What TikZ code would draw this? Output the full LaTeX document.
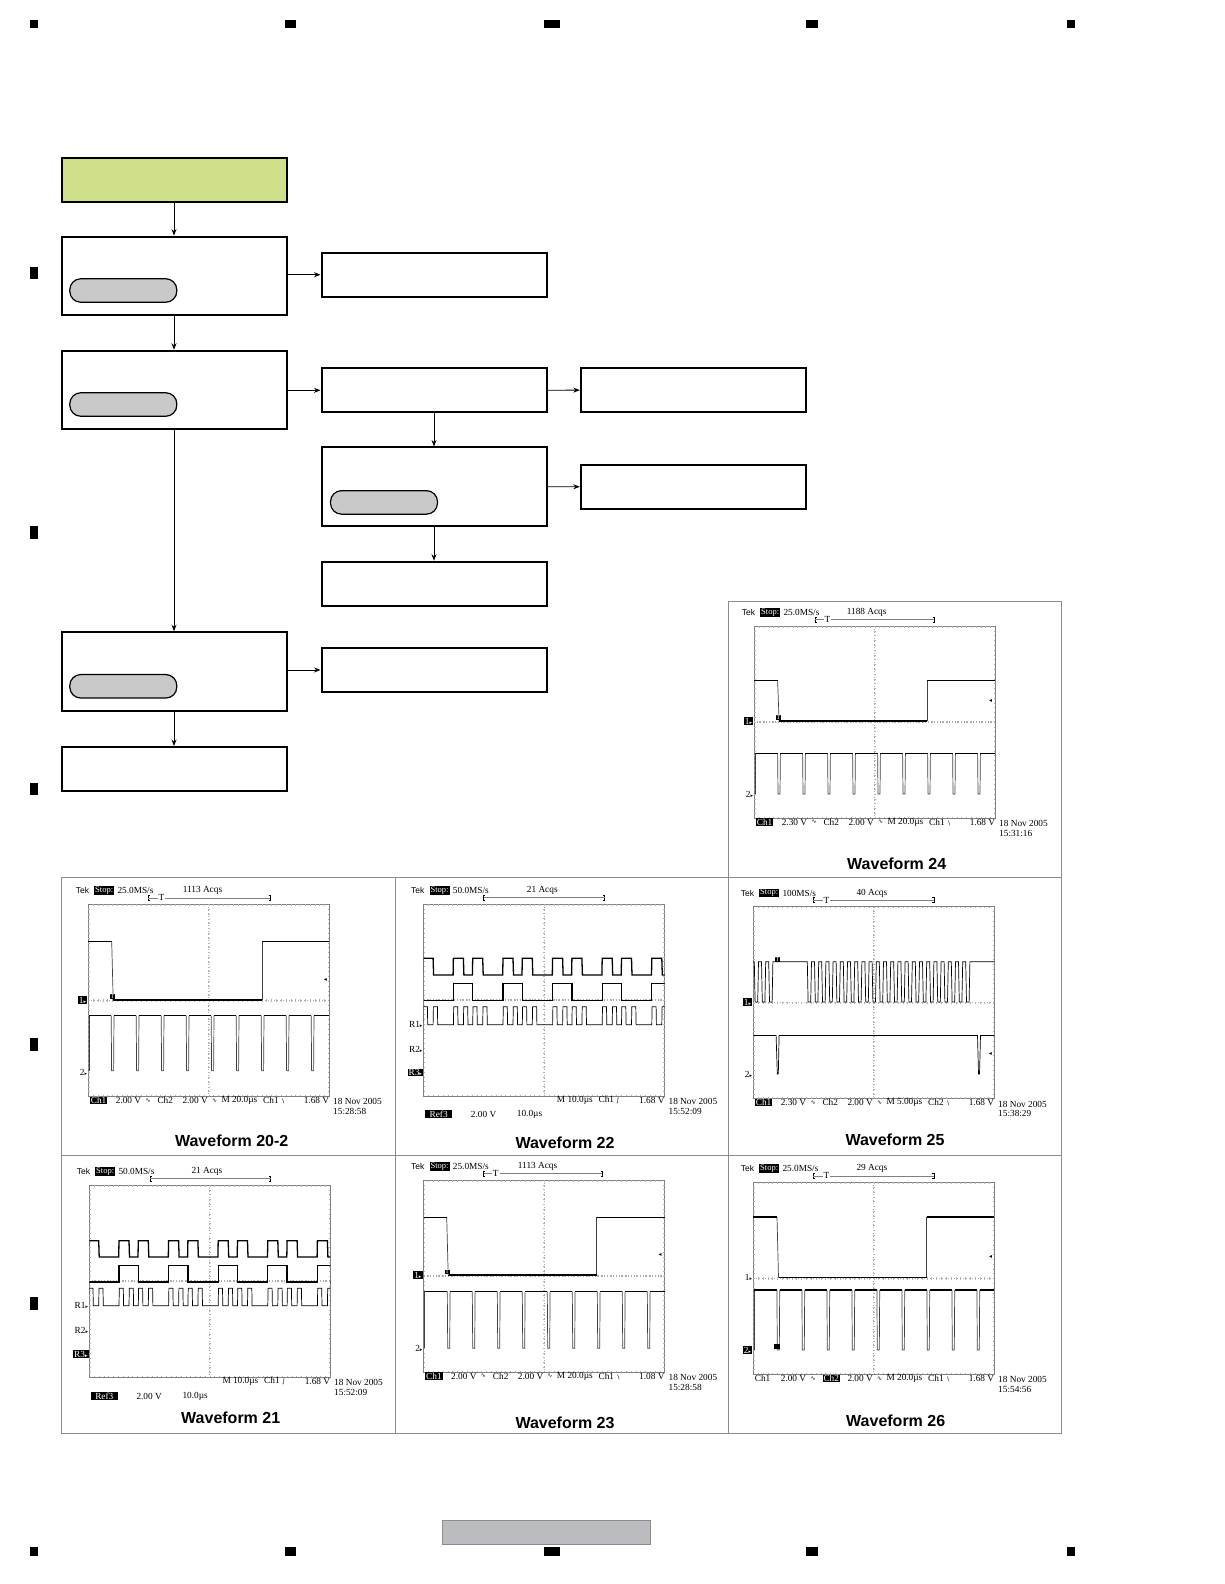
\documentclass[tikz,border=0pt]{standalone}
\usepackage{fontspec}
\setmainfont{Liberation Serif}
\newfontfamily\titlefont{Liberation Sans}
\newfontfamily\scopesym{DejaVu Sans}
\usetikzlibrary{arrows.meta}

\newcommand{\scopefont}{\fontsize{9.3}{10}\selectfont}

\definecolor{flowgreen}{HTML}{CFE08A}
\definecolor{pillgray}{HTML}{C9C9C9}
\definecolor{tabgray}{HTML}{BBBCC0}
\definecolor{panelgray}{HTML}{8C8C8C}

\tikzset{
    flowbox/.style={draw, line width=2pt, inner sep=0, minimum width=225pt, minimum height=44pt},
    tallbox/.style={flowbox, minimum height=78.5pt},
    pill/.style={draw, line width=1.2pt, fill=pillgray, rounded corners=11pt, inner sep=0, minimum width=107pt, minimum height=23.5pt},
    link/.style={line width=0.8pt, -{Stealth[length=6.5pt,width=5pt]}},
    panelline/.style={panelgray, line width=0.8pt},
    gridline/.style={gray, line width=0.7pt},
    griddot/.style={gray!70, line width=1.1pt, dash pattern=on 1pt off 2pt},
    gridtick/.style={gray!60, line width=0.4pt},
    tracethick/.style={line width=1.3pt},
    tracethin/.style={line width=0.7pt},
    traceedge/.style={black!75, line width=0.7pt},
    scopelabel/.style={anchor=west, inner sep=0, font=\scopefont},
    scopeinv/.style={scopelabel, fill=black, text=white, inner xsep=1pt, inner ysep=0.5pt},
    scopemark/.style={scopelabel, anchor=east},
    scopeinvmark/.style={scopeinv, anchor=east},
    wavetitle/.style={inner sep=0, font=\titlefont\bfseries\fontsize{16}{18}\selectfont},
}

%frame, centre lines and ticks of one screen
\newcommand{\scopegrid}{
    \draw[gridline] (0,0) rectangle (241,192);
    \draw[griddot] (120.5,0) -- (120.5,192);
    \draw[griddot] (0,96) -- (241,96);
    \foreach \t in {1,...,49} {
        \draw[gridtick] ({\t*4.82},0) -- ++(0,1.5);
        \draw[gridtick] ({\t*4.82},192) -- ++(0,-1.5);
        \draw[gridtick] ({\t*4.82},94.8) -- ++(0,2.4);
    }
    \foreach \t in {1,...,39} {
        \draw[gridtick] (0,{\t*4.8}) -- ++(1.5,0);
        \draw[gridtick] (241,{\t*4.8}) -- ++(-1.5,0);
        \draw[gridtick] (119.3,{\t*4.8}) -- ++(2.4,0);
    }
}

%rate, x of count, count
\newcommand{\scopehead}[3]{
    \node[scopelabel, font=\titlefont\fontsize{8.5}{10}\selectfont] (tek) at (-12.7,-13.7) {Tek};
    \node[scopeinv, font=\fontsize{8.5}{9}\selectfont] (stop) at (5.7,-13.7) {Stop:};
    \node[scopelabel] (rate) at (29,-13.7) {#1};
    \node[scopelabel] (acqs) at (#2,-13.7) {#3};
}

%left and right end of the bracket
\newcommand{\scopetrig}[2]{
    \draw[line width=0.5pt] (#1+1.5,-9) -- (#1,-9) -- (#1,-4) -- (#1+1.5,-4);
    \draw[line width=0.5pt] (#2-1.5,-9) -- (#2,-9) -- (#2,-4) -- (#2-1.5,-4);
    \draw[gray, line width=0.6pt] (#1,-6.5) -- (#2,-6.5);
}

%style Ch1, volts, style Ch2, volts, timebase, trigger, level, time
\newcommand{\scopefoot}[8]{
    \node[#1] (cha) at (1.3,196) {Ch1};
    \node[scopelabel] (volta) at (27.3,196) {#2};
    \node[scopelabel] (syma) at (57,196) {\scopesym\fontsize{6}{7}\selectfont ∿};
    \node[#3] (chb) at (69,196) {Ch2};
    \node[scopelabel] (voltb) at (94,196) {#4};
    \node[scopelabel] (symb) at (123.5,196) {\scopesym\fontsize{6}{7}\selectfont ∿};
    \node[scopelabel] (base) at (133,196) {#5};
    \node[scopelabel] (trig) at (174.7,196) {#6 {\scopesym\fontsize{6}{7}\selectfont ∖}};
    \node[scopelabel, anchor=east] (level) at (241,196) {#7};
    \scopedate{#8}
}

\newcommand{\scopedate}[1]{
    \node[scopelabel] (date) at (244.7,197.5) {18 Nov 2005};
    \node[scopelabel] (time) at (244.7,207) {#1};
}

%footer of the two reference screens
\newcommand{\reffoot}[1]{
    \node[scopelabel] (base) at (133,196) {M 10.0µs};
    \node[scopelabel] (trig) at (174.7,196) {Ch1 {\scopesym\fontsize{6}{7}\selectfont ∫}};
    \node[scopelabel, anchor=east] (level) at (241,196) {1.68 V};
    \node[scopeinv, minimum width=27pt, align=left] (ref) at (1.3,#1) {Ref3};
    \node[scopelabel] (refv) at (47,#1) {2.00 V};
    \node[scopelabel] (reft) at (93,#1) {10.0µs};
    \scopedate{15:52:09}
}

%style, high, low, fall, rise, Ch2 high, Ch2 low, first pulse
\newcommand{\gatetrace}[8]{
    \draw[traceedge] (#4,#2) -- ({#4+1.5},#3);
    \draw[traceedge] (#5,#3) -- (#5,#2);
    \draw[#1] (0,#2) -- (#4,#2);
    \draw[#1] ({#4+1.5},#3) -- (#5,#3);
    \draw[#1] (#5,#2) -- (241,#2);
    \draw[traceedge] (1,#7) -- (1,#6);
    \draw[#1] (1,#6) -- ({#8-1.4},#6);
    \foreach \n in {0,...,8} {
        \draw[traceedge] ({#8+\n*25-1.4},#6) -- ({#8+\n*25-1},#7) -- ({#8+\n*25+1},#7) -- ({#8+\n*25+1.4},#6);
        \draw[#1] ({#8+\n*25+1.4},#6) -- ({min(#8+\n*25+23.6,241)},#6);
    }
}

%three traces of the reference screens
\newcommand{\reftrace}[6]{
    \begin{scope}
        \clip (0,0) rectangle (241,192);
        \draw[tracethick] (-19.9,#1) \foreach \n [evaluate=\n as \bs using {29.7+\n*49.6}] in {-1,...,4} {
            -- ({\bs+10},#1) -- ({\bs+10.5},#2) -- ({\bs+19},#2) -- ({\bs+19.3},#1) -- ({\bs+29.3},#1) -- ({\bs+29.8},#2) -- ({\bs+49.3},#2) -- ({\bs+49.6},#1)
        };
        \draw[tracethick] (0,#4) \foreach \n [evaluate=\n as \bs using {29.7+\n*49.6}] in {0,...,4} {
            -- (\bs,#4) -- (\bs,#3) -- ({\bs+19.3},#3) -- ({\bs+19.3},#4)
        } -- (241,#4);
        \draw[tracethin] (-20,#6) \foreach \n [evaluate=\n as \bs using {29.7+\n*49.6}] in {-1,...,4} {
            -- (\bs,#6) -- ({\bs+0.3},#5) -- ({\bs+4.3},#5) -- ({\bs+4.6},#6)
            -- ({\bs+10},#6) -- ({\bs+10.3},#5) -- ({\bs+14.3},#5) -- ({\bs+14.6},#6)
            -- ({\bs+19.3},#6) -- ({\bs+19.6},#5) -- ({\bs+23.6},#5) -- ({\bs+23.9},#6)
            -- ({\bs+29.3},#6) -- ({\bs+29.6},#5) -- ({\bs+33.6},#5) -- ({\bs+33.9},#6)
        };
    \end{scope}
}

\begin{document}
\begin{tikzpicture}[x=1pt, y=-1pt]
    \useasboundingbox (0,0) rectangle (1224,1584);

    %registration marks
        \foreach \xa/\xb in {30/38.4, 285/296, 544.3/559.5, 806/818, 1066.5/1074.5} {
            \fill (\xa,20) rectangle (\xb,28);
            \fill (\xa,1547) rectangle (\xb,1555.5);
        }
        \foreach \ya/\yb in {266.6/278.7, 526/539.3, 782.7/795, 1038/1051, 1296.7/1310} {
            \fill (30,\ya) rectangle (38.4,\yb);
        }

    %flow boxes
        \node[flowbox, fill=flowgreen] (S) at (174,180.3) {};
        \node[tallbox] (A) at (174,275.8) {};
        \node[flowbox] (A1) at (434,274.7) {};
        \node[tallbox] (B) at (174,390) {};
        \node[flowbox] (B1) at (434,390.3) {};
        \node[flowbox] (B2) at (693.3,390) {};
        \node[tallbox] (C) at (434,486.7) {};
        \node[flowbox] (C1) at (693.3,486.8) {};
        \node[flowbox] (D) at (434,583.7) {};
        \node[tallbox] (E) at (174,671.5) {};
        \node[flowbox] (E1) at (434,670) {};
        \node[flowbox] (F) at (174,769) {};

    %pills inside the tall boxes
        \node[pill] (Ap) at (123.3,290.5) {};
        \node[pill] (Bp) at (123.3,404.5) {};
        \node[pill] (Cp) at (384,502.4) {};
        \node[pill] (Ep) at (123.3,686.3) {};

    %connectors
        \draw[link] (S) -- (A);
        \draw[link] (A) -- (B);
        \draw[link] (B) -- (E);
        \draw[link] (E) -- (F);
        \draw[link] (B1) -- (C);
        \draw[link] (C) -- (D);
        \draw[link] (A.east |- A1.west) -- (A1);
        \draw[link] (B.east |- B1.west) -- (B1);
        \draw[link] (B1) -- (B2);
        \draw[link] (C) -- (C1);
        \draw[link] (E.east |- E1.west) -- (E1);

    %panel rules
        \draw[panelline] (728.4,601) rectangle (1061.5,877);
        \draw[panelline] (61,877) rectangle (1061.5,1433);
        \draw[panelline] (61,1155) -- (1061.5,1155);
        \draw[panelline] (395,877) -- (395,1433);
        \draw[panelline] (728.4,877) -- (728.4,1433);

    %panel 24
    \begin{scope}[shift={(754.3,626)}, name prefix=wfd-]
        \scopegrid
        \scopehead{25.0MS/s}{92.3}{1188 Acqs}
        \scopetrig{60.7}{180}
        \node[scopelabel, fill=white, inner xsep=1pt] (tm) at (69,-6.5) {T};
        \gatetrace{tracethick}{54.7}{95}{23.3}{173}{127.7}{168}{24.7}
        \node[scopeinvmark] (one) at (-1,95) {1\scopesym\fontsize{5}{6}\selectfont▸};
        \node[scopemark] (two) at (-1,168) {2\scopesym\fontsize{5}{6}\selectfont▸};
        \node[scopeinv, font=\fontsize{6}{7}\selectfont, inner xsep=0.5pt] (tpos) at (21.5,91.5) {T};
        \node[inner sep=0, font=\scopesym\fontsize{6}{7}\selectfont] (cur) at (236.3,75) {◂};
        \scopefoot{scopeinv}{2.30 V}{scopelabel}{2.00 V}{M 20.0µs}{Ch1}{1.68 V}{15:31:16}
    \end{scope}
    \node[wavetitle] (t24) at (896.7,863.3) {Waveform 24};

    %panel 20-2
    \begin{scope}[shift={(88.3,904.3)}, name prefix=wfa-]
        \scopegrid
        \scopehead{25.0MS/s}{94.3}{1113 Acqs}
        \scopetrig{60}{181.7}
        \node[scopelabel, fill=white, inner xsep=1pt] (tm) at (69,-6.5) {T};
        \gatetrace{tracethin}{37.4}{95.7}{23.4}{174}{111.4}{166.4}{24.3}
        \draw[tracethick] (25,95.7) -- (174,95.7);
        \node[scopeinvmark] (one) at (-1,95.7) {1\scopesym\fontsize{5}{6}\selectfont▸};
        \node[scopemark] (two) at (-1,168) {2\scopesym\fontsize{5}{6}\selectfont▸};
        \node[scopeinv, font=\fontsize{6}{7}\selectfont, inner xsep=0.5pt] (tpos) at (21.5,92) {T};
        \node[inner sep=0, font=\scopesym\fontsize{6}{7}\selectfont] (cur) at (237,75.7) {◂};
        \scopefoot{scopeinv}{2.00 V}{scopelabel}{2.00 V}{M 20.0µs}{Ch1}{1.68 V}{15:28:58}
    \end{scope}
    \node[wavetitle] (t20) at (231.7,1140.7) {Waveform 20-2};

    %panel 22
    \begin{scope}[shift={(423.7,904)}, name prefix=wfb-]
        \scopegrid
        \scopehead{50.0MS/s}{103}{21 Acqs}
        \scopetrig{60}{181}
        \reftrace{54.3}{71}{79.3}{96.3}{102.7}{120.7}
        \node[scopemark] (rone) at (-1,120.7) {R1\scopesym\fontsize{5}{6}\selectfont▸};
        \node[scopemark] (rtwo) at (-1,145.3) {R2\scopesym\fontsize{5}{6}\selectfont▸};
        \node[scopeinvmark] (rthree) at (-0.5,168.3) {R3\scopesym\fontsize{5}{6}\selectfont▸};
        \reffoot{210}
    \end{scope}
    \node[wavetitle] (t22) at (565,1142.3) {Waveform 22};

    %panel 25
    \begin{scope}[shift={(753.3,906.7)}, name prefix=wfe-]
        \scopegrid
        \scopehead{100MS/s}{103}{40 Acqs}
        \scopetrig{60}{180.5}
        \node[scopelabel, fill=white, inner xsep=1pt] (tm) at (69,-6.5) {T};
        \draw[tracethin] (0,55) \foreach \n [evaluate=\n as \px using {1+\n*7.2}] in {0,1,2} {
            -- (\px,55) -- ({\px+0.8},95.3) -- ({\px+3.4},95.3) -- ({\px+4.2},55)
        } -- (54,55) \foreach \n [evaluate=\n as \px using {54+\n*7.2}] in {0,...,22} {
            -- (\px,55) -- ({\px+0.8},95.3) -- ({\px+3.4},95.3) -- ({\px+4.2},55)
        } -- (241,55);
        \draw[tracethin] (0,128.7) -- (22.8,128.7) -- (24,167.3) -- (25,167.3) -- (25.8,128.7) -- (224.2,128.7) -- (225.2,167.3) -- (226.2,167.3) -- (227.2,128.7) -- (241,128.7);
        \node[scopeinvmark] (one) at (-1,95.3) {1\scopesym\fontsize{5}{6}\selectfont▸};
        \node[scopemark] (two) at (-1,168) {2\scopesym\fontsize{5}{6}\selectfont▸};
        \node[scopeinv, font=\fontsize{6}{7}\selectfont, inner xsep=0.5pt] (tpos) at (21.5,53) {T};
        \node[inner sep=0, font=\scopesym\fontsize{6}{7}\selectfont] (cur) at (237,147.7) {◂};
        \scopefoot{scopeinv}{2.30 V}{scopelabel}{2.00 V}{M 5.00µs}{Ch2}{1.68 V}{15:38:29}
    \end{scope}
    \node[wavetitle] (t25) at (895,1139.3) {Waveform 25};

    %panel 21
    \begin{scope}[shift={(89.3,1185)}, name prefix=wfc-]
        \scopegrid
        \scopehead{50.0MS/s}{102}{21 Acqs}
        \scopetrig{60.7}{181.3}
        \reftrace{55.7}{72}{80.7}{97}{103.3}{120.7}
        \node[scopemark] (rone) at (-1,120.3) {R1\scopesym\fontsize{5}{6}\selectfont▸};
        \node[scopemark] (rtwo) at (-1,145.3) {R2\scopesym\fontsize{5}{6}\selectfont▸};
        \node[scopeinvmark] (rthree) at (-0.5,169) {R3\scopesym\fontsize{5}{6}\selectfont▸};
        \reffoot{211}
    \end{scope}
    \node[wavetitle] (t21) at (230.7,1417.3) {Waveform 21};

    %panel 23
    \begin{scope}[shift={(423.7,1180)}, name prefix=wff-]
        \scopegrid
        \scopehead{25.0MS/s}{94}{1113 Acqs}
        \scopetrig{60}{178.5}
        \node[scopelabel, fill=white, inner xsep=1pt] (tm) at (68,-6.5) {T};
        \gatetrace{tracethin}{37}{95}{23}{173}{111.3}{168.3}{25}
        \draw[tracethick] (25,95) -- (173,95);
        \node[scopeinvmark] (one) at (-1,95) {1\scopesym\fontsize{5}{6}\selectfont▸};
        \node[scopemark] (two) at (-1,168.3) {2\scopesym\fontsize{5}{6}\selectfont▸};
        \node[scopeinv, font=\fontsize{6}{7}\selectfont, inner xsep=0.5pt] (tpos) at (21,92) {T};
        \node[inner sep=0, font=\scopesym\fontsize{6}{7}\selectfont] (cur) at (236.3,75.3) {◂};
        \scopefoot{scopeinv}{2.00 V}{scopelabel}{2.00 V}{M 20.0µs}{Ch1}{1.08 V}{15:28:58}
    \end{scope}
    \node[wavetitle] (t23) at (565,1422.7) {Waveform 23};

    %panel 26
    \begin{scope}[shift={(753.3,1182.3)}, name prefix=wfg-]
        \scopegrid
        \scopehead{25.0MS/s}{103}{29 Acqs}
        \scopetrig{60}{180.5}
        \node[scopelabel, fill=white, inner xsep=1pt] (tm) at (69,-6.5) {T};
        \gatetrace{tracethick}{34.7}{95.3}{23.7}{173.3}{107.7}{167.7}{25}
        \node[scopemark] (one) at (-1,95.3) {1\scopesym\fontsize{5}{6}\selectfont▸};
        \node[scopeinvmark] (two) at (-1,167.7) {2\scopesym\fontsize{5}{6}\selectfont▸};
        \fill (21,161.3) rectangle (26.5,167);
        \node[inner sep=0, font=\scopesym\fontsize{6}{7}\selectfont] (cur) at (237.3,75) {◂};
        \scopefoot{scopelabel}{2.00 V}{scopeinv}{2.00 V}{M 20.0µs}{Ch1}{1.68 V}{15:54:56}
    \end{scope}
    \node[wavetitle] (t26) at (895.7,1420.7) {Waveform 26};

    %page tab
        \draw[panelgray, line width=0.9pt, fill=tabgray] (442,1520) rectangle (650,1544);
\end{tikzpicture}
\end{document}
